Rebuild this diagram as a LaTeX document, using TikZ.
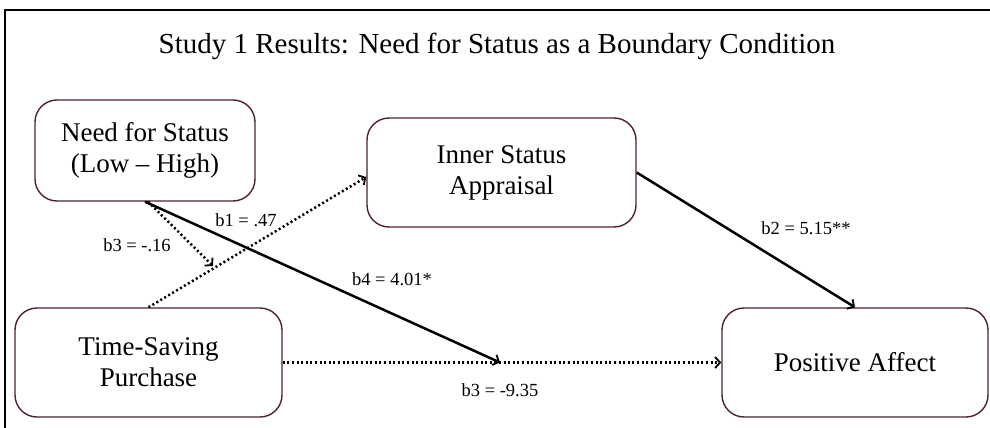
\documentclass[tikz,border=0pt]{standalone}
\usepackage{fontspec}
\setmainfont{Liberation Serif}
\usetikzlibrary{arrows.meta}
\definecolor{boxborder}{RGB}{78,32,52}
\begin{document}
\begin{tikzpicture}[x=1pt,y=-1pt,
  varbox/.style={draw=boxborder,line width=1.4pt,rounded corners=22pt,align=center,
    font=\fontsize{27}{31}\selectfont,inner sep=0pt},
  lbl/.style={font=\fontsize{18.5}{21}\selectfont,inner sep=0pt},
  solidarrow/.style={line width=2.5pt,-{Straight Barb[length=5pt,width=11pt,line width=1.8pt]}},
  dotarrow/.style={line width=2.5pt,dash pattern=on 2pt off 2.6pt,-{Straight Barb[length=5pt,width=11pt,line width=1.8pt]}},
]
\useasboundingbox (0,0) rectangle (990,428);
\draw[line width=2pt] (5,428) -- (5,10) -- (990,10);
\node[anchor=base,font=\fontsize{29}{33}\selectfont] (title) at (497,54) {Study 1 Results: Need for Status as a Boundary Condition};

\node[varbox,minimum width=220pt,minimum height=101pt] (nfs) at (145,150.5) {Need for Status\\(Low -- High)};
\node[varbox,minimum width=269pt,minimum height=109pt] (isa) at (501.5,172.5) {Inner Status\\Appraisal};
\node[varbox,minimum width=267pt,minimum height=109pt] (tsp) at (148.5,362.5) {Time-Saving\\Purchase};
\node[varbox,minimum width=266pt,minimum height=109pt] (pa) at (855,362.5) {Positive Affect};

\coordinate (mid) at (500,362.5);
\coordinate (mod) at (213,266);

\draw[solidarrow] (nfs.south) -- (mid);
\draw[dotarrow] ([xshift=3pt]nfs.south) -- (mod);
\draw[dotarrow] (tsp.north) -- ([yshift=-4.5pt]isa.west);
\draw[dotarrow] (tsp.east) -- (pa.west);
\draw[solidarrow] (isa.east) -- (pa.north);

\node[lbl] (l1) at (246,220) {b1 = .47};
\node[lbl] (l2) at (137,245) {b3 = -.16};
\node[lbl] (l3) at (392,279) {b4 = 4.01*};
\node[lbl] (l4) at (806,228) {b2 = 5.15**};
\node[lbl] (l5) at (500,390) {b3 = -9.35};
\end{tikzpicture}
\end{document}
